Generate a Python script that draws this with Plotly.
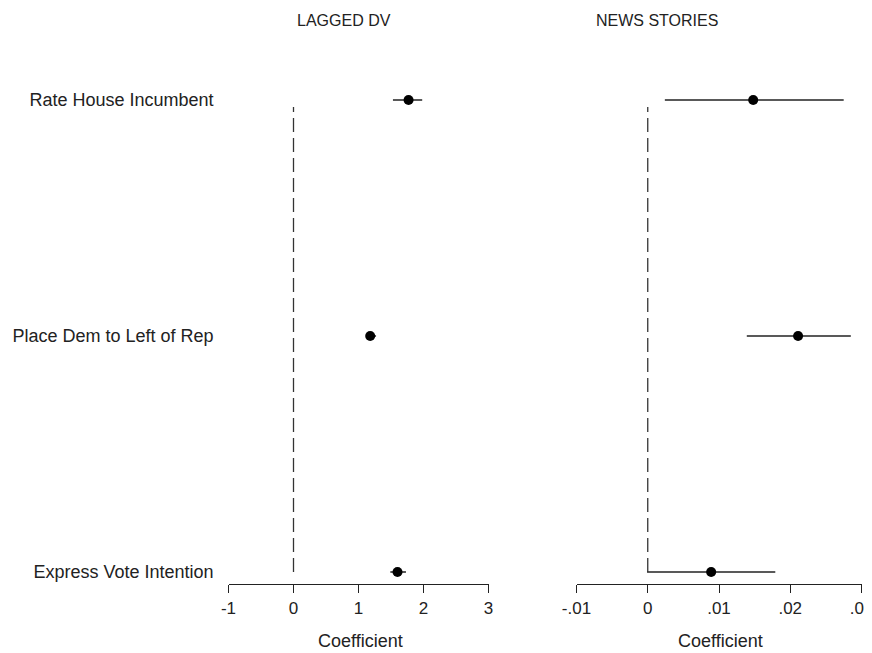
import plotly.graph_objects as go

categories = ["Express Vote Intention", "Place Dem to Left of Rep", "Rate House Incumbent"]
cat_pos = [0, 1, 2]

# Panel 1: LAGGED DV
lag_coef = [1.60, 1.18, 1.77]
lag_lo = [1.49, 1.12, 1.53]
lag_hi = [1.73, 1.27, 1.98]

# Panel 2: NEWS STORIES
news_coef = [0.0089, 0.0211, 0.0148]
news_lo = [-0.0001, 0.0139, 0.0024]
news_hi = [0.0179, 0.0285, 0.0275]

panel_titles = ["LAGGED DV", "NEWS STORIES"]
x_title = "Coefficient"
lag_ticks = [-1, 0, 1, 2, 3]
lag_ticktext = ["-1", "0", "1", "2", "3"]
news_ticks = [-0.01, 0, 0.01, 0.02, 0.03]
news_ticktext = ["-.01", "0", ".01", ".02", ".03"]

OFF = 8  # page body margin
W, H = 872 - OFF, 653 - OFF
FONT = "Liberation Sans, Arial, sans-serif"
TOP, BOT = 90 - OFF, 584 - OFF

def px(p):
    return (p - OFF) / W

def py(p):
    return (BOT - (p - OFF)) / (BOT - TOP)

fig = go.Figure()

def add_panel(coef, lo, hi, xa, ya):
    fig.add_trace(go.Scatter(
        x=coef, y=cat_pos, mode="markers", xaxis=xa, yaxis=ya,
        marker=dict(color="black", size=10),
        error_x=dict(type="data", symmetric=False,
                     array=[h - c for h, c in zip(hi, coef)],
                     arrayminus=[c - l for c, l in zip(coef, lo)],
                     color="#222222", thickness=1.4, width=0),
        showlegend=False, cliponaxis=False))

add_panel(lag_coef, lag_lo, lag_hi, "x", "y")
add_panel(news_coef, news_lo, news_hi, "x2", "y2")

# dashed zero lines
for xr, yr in [("x", "y"), ("x2", "y2")]:
    fig.add_shape(type="line", xref=xr, yref=yr, x0=0, x1=0, y0=0, y1=1.97,
                  line=dict(color="#333333", width=1.3, dash="14px,6px"))

yrange = [-12 / 236, 2 + 10 / 236]
xcommon = dict(showgrid=False, zeroline=False, showline=True, linecolor="#222222",
               linewidth=1.3, ticks="outside", ticklen=8, tickwidth=1.3,
               tickcolor="#222222", tickfont=dict(size=17, color="#222222", family=FONT),
               automargin=False, ticklabeloverflow="allow")

fig.update_layout(
    width=W, height=H,
    margin=dict(l=0, r=0, t=TOP, b=H - BOT, autoexpand=False),
    plot_bgcolor="white", paper_bgcolor="white",
    font=dict(family=FONT, color="#222222"),
    xaxis=dict(domain=[px(228.5), px(488.5)], range=[-1, 3], tickvals=lag_ticks,
               ticktext=lag_ticktext, anchor="y", **xcommon),
    xaxis2=dict(domain=[px(576.5), px(861.5)], range=[-0.01, 0.03], tickvals=news_ticks,
                ticktext=news_ticktext, anchor="y2", **xcommon),
    yaxis=dict(domain=[0, 1], range=yrange, showgrid=False, zeroline=False, showline=False,
               tickvals=cat_pos, ticktext=categories, ticks="", ticklabelstandoff=14,
               tickfont=dict(size=18, color="#222222", family=FONT), anchor="x",
               automargin=False),
    yaxis2=dict(domain=[0, 1], range=yrange, showgrid=False, zeroline=False, showline=False,
                showticklabels=False, ticks="", anchor="x2", automargin=False),
)

annotations = [
    dict(text=panel_titles[0], x=px(344), y=py(21), xref="paper", yref="paper",
         showarrow=False, font=dict(size=16, color="#222222"), xanchor="center", yanchor="middle"),
    dict(text=panel_titles[1], x=px(657), y=py(21), xref="paper", yref="paper",
         showarrow=False, font=dict(size=16, color="#222222"), xanchor="center", yanchor="middle"),
    dict(text=x_title, x=px(360), y=py(641), xref="paper", yref="paper",
         showarrow=False, font=dict(size=18, color="#222222"), xanchor="center", yanchor="middle"),
    dict(text=x_title, x=px(720), y=py(641), xref="paper", yref="paper",
         showarrow=False, font=dict(size=18, color="#222222"), xanchor="center", yanchor="middle"),
]
fig.update_layout(annotations=annotations)

fig.write_html("out.html")
